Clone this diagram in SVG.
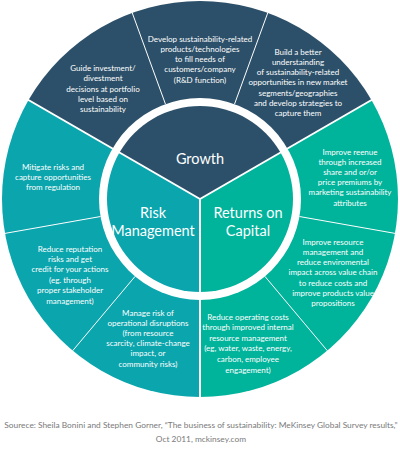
<svg xmlns="http://www.w3.org/2000/svg" width="400" height="459" viewBox="0 0 400 459">
<style>
.g{fill:#2c5069}.r{fill:#0aa5ad}.c{fill:#00b39b}
.sep{stroke:#fff;stroke-width:2;fill:none}
.thin{stroke:#fff;stroke-width:1;fill:none}
.t{font-family:Lato,"Open Sans",sans-serif;font-size:8px;fill:#fff;text-anchor:middle}
.big{font-family:Lato,"Open Sans",sans-serif;font-size:14.5px;fill:#fff;text-anchor:middle}
.src{font-family:Lato,"Open Sans",sans-serif;font-size:8.35px;fill:#7a7a7a;text-anchor:middle}
</style>
<rect width="400" height="459" fill="#fff"/>
<g id="outer-ring">
<path class="g" d="M200,199 L28.53,100 A198,198 0 0 1 371.47,100 Z"/>
<path class="c" d="M200,199 L371.47,100 A198,198 0 0 1 200,397 Z"/>
<path class="r" d="M200,199 L200,397 A198,198 0 0 1 28.53,100 Z"/>
</g>
<g id="connectors">
<line class="sep" x1="200" y1="199" x2="27.6" y2="99.5"/>
<line class="sep" x1="200" y1="199" x2="372.4" y2="99.5"/>
<line class="sep" x1="200" y1="199" x2="200" y2="398"/>
<line class="thin" x1="165.46" y1="104.09" x2="132.28" y2="12.94"/>
<line class="thin" x1="234.54" y1="104.09" x2="267.72" y2="12.94"/>
<line class="thin" x1="299.46" y1="216.53" x2="394.99" y2="233.38"/>
<line class="thin" x1="264.92" y1="276.37" x2="327.27" y2="350.67"/>
<line class="thin" x1="135.08" y1="276.37" x2="72.73" y2="350.67"/>
<line class="thin" x1="100.54" y1="216.53" x2="5.01" y2="233.38"/>
</g>
<circle cx="200" cy="199" r="101" fill="#fff"/>
<g id="growth">
<path class="g" d="M200,199 L119.46,152.5 A93,93 0 0 1 280.54,152.5 Z"/>
<text class="big" x="200" y="164">Growth</text>
</g>
<g id="returns">
<path class="c" d="M200,199 L280.54,152.5 A93,93 0 0 1 200,292 Z"/>
<text class="big" x="248" y="218">Returns on</text>
<text class="big" x="248" y="236">Capital</text>
</g>
<g id="risk">
<path class="r" d="M200,199 L200,292 A93,93 0 0 1 119.46,152.5 Z"/>
<text class="big" x="153" y="218">Risk</text>
<text class="big" x="153" y="236">Management</text>
</g>
<g id="inner-dividers">
<line class="sep" x1="200" y1="199" x2="118.6" y2="152"/>
<line class="sep" x1="200" y1="199" x2="281.4" y2="152"/>
<line class="sep" x1="200" y1="199" x2="200" y2="293"/>
</g>
<g id="guide">
<text class="t" x="103" y="71"><tspan x="103">Guide investment/</tspan><tspan x="103" dy="10.3">divestment</tspan><tspan x="103" dy="10.3">decisions at portfolio</tspan><tspan x="103" dy="10.3">level based on</tspan><tspan x="103" dy="10.3">sustainability</tspan></text>
</g>
<g id="develop">
<text class="t" x="200" y="41.5"><tspan x="200">Develop sustainability-related</tspan><tspan x="200" dy="10.25">products/technologies</tspan><tspan x="200" dy="10.25">to fill needs of</tspan><tspan x="200" dy="10.25">customers/company</tspan><tspan x="200" dy="10.25">(R&amp;D function)</tspan></text>
</g>
<g id="build">
<text class="t" x="298" y="54.5"><tspan x="298">Build a better</tspan><tspan x="298" dy="10.33">understainding</tspan><tspan x="298" dy="10.33">of sustainability-related</tspan><tspan x="298" dy="10.33">opportunities in new market</tspan><tspan x="298" dy="10.33">segments/geographies</tspan><tspan x="298" dy="10.33">and develop strategies to</tspan><tspan x="298" dy="10.33">capture them</tspan></text>
</g>
<g id="mitigate">
<text class="t" x="53" y="169.5"><tspan x="53">Mitigate risks and</tspan><tspan x="53" dy="10">capture opportunities</tspan><tspan x="53" dy="10">from regulation</tspan></text>
</g>
<g id="reputation">
<text class="t" x="70" y="251.5"><tspan x="70">Reduce reputation</tspan><tspan x="70" dy="10.4">risks and get</tspan><tspan x="70" dy="10.4">credit for your actions</tspan><tspan x="70" dy="10.4">(eg. through</tspan><tspan x="70" dy="10.4">proper stakeholder</tspan><tspan x="70" dy="10.4">management)</tspan></text>
</g>
<g id="operational">
<text class="t" x="148" y="315.5"><tspan x="148">Manage risk of</tspan><tspan x="148" dy="10.2">operational disruptions</tspan><tspan x="148" dy="10.2">(from resource</tspan><tspan x="148" dy="10.2">scarcity, climate-change</tspan><tspan x="148" dy="10.2">impact, or</tspan><tspan x="148" dy="10.2">community risks)</tspan></text>
</g>
<g id="revenue">
<text class="t" x="350" y="154.5"><tspan x="350">Improve reenue</tspan><tspan x="350" dy="10.2">through increased</tspan><tspan x="350" dy="10.2">share and or/or</tspan><tspan x="350" dy="10.2">price premiums by</tspan><tspan x="350" dy="10.2">marketing sustainability</tspan><tspan x="350" dy="10.2">attributes</tspan></text>
</g>
<g id="resource">
<text class="t" x="333" y="244.5"><tspan x="333">Improve resource</tspan><tspan x="333" dy="10.33">management and</tspan><tspan x="333" dy="10.33">reduce enviromental</tspan><tspan x="333" dy="10.33">impact across value chain</tspan><tspan x="333" dy="10.33">to reduce costs and</tspan><tspan x="333" dy="10.33">improve products value</tspan><tspan x="333" dy="10.33">propositions</tspan></text>
</g>
<g id="operating">
<text class="t" x="248" y="319.5"><tspan x="248">Reduce operating costs</tspan><tspan x="248" dy="10.6">through improved internal</tspan><tspan x="248" dy="10.6">resource management</tspan><tspan x="248" dy="10.6">(eg, water, waste, energy,</tspan><tspan x="248" dy="10.6">carbon, employee</tspan><tspan x="248" dy="10.6">engagement)</tspan></text>
</g>
<g id="source">
<text class="src" x="201" y="427.5">Sourece: Sheila Bonini and Stephen Gorner, “The business of sustainability: MeKinsey Global Survey results,”</text>
<text class="src" x="201" y="442">Oct 2011, mckinsey.com</text>
</g>
</svg>
